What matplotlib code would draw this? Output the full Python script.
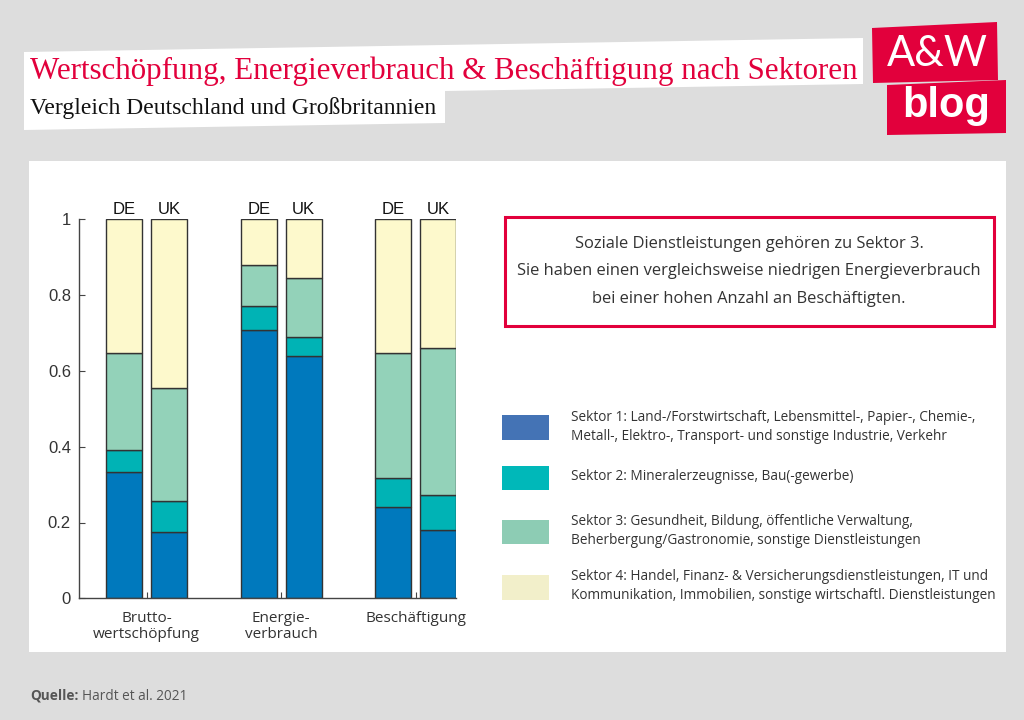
import numpy as np
import matplotlib
matplotlib.use("Agg")
import matplotlib.pyplot as plt
from matplotlib.patches import Polygon, Rectangle

# data (shares per sector)
groups = ["Brutto-\nwertschöpfung", "Energie-\nverbrauch", "Beschäftigung"]
countries = ["DE", "UK"]
sektor1_de = [0.334, 0.707, 0.240]
sektor1_uk = [0.176, 0.639, 0.179]
sektor2_de = [0.058, 0.065, 0.077]
sektor2_uk = [0.080, 0.051, 0.094]
sektor3_de = [0.255, 0.107, 0.329]
sektor3_uk = [0.300, 0.156, 0.388]
sektor4_de = [0.353, 0.121, 0.354]
sektor4_uk = [0.444, 0.154, 0.339]

bar_colors = ["#0079bd", "#00b3b5", "#93d2b9", "#fdf9cc"]
legend_colors = ["#4473b5", "#00b8b9", "#8dccb4", "#f2efca"]
legend_labels = [
    "Sektor 1: Land-/Forstwirtschaft, Lebensmittel-, Papier-, Chemie-,\nMetall-, Elektro-, Transport- und sonstige Industrie, Verkehr",
    "Sektor 2: Mineralerzeugnisse, Bau(-gewerbe)",
    "Sektor 3: Gesundheit, Bildung, öffentliche Verwaltung,\nBeherbergung/Gastronomie, sonstige Dienstleistungen",
    "Sektor 4: Handel, Finanz- & Versicherungsdienstleistungen, IT und\nKommunikation, Immobilien, sonstige wirtschaftl. Dienstleistungen",
]
note = ("Soziale Dienstleistungen gehören zu Sektor 3.\n"
        "Sie haben einen vergleichsweise niedrigen Energieverbrauch\n"
        "bei einer hohen Anzahl an Beschäftigten.")

W, H = 1024, 720
red = "#e2003c"


def fx(x):
    return x / W


def fy(y):
    return 1 - y / H


fig = plt.figure(figsize=(W / 100, H / 100), dpi=100)
fig.patch.set_facecolor("#dddddd")

# white panel
fig.patches.append(Rectangle((fx(29), fy(652)), fx(1006) - fx(29), fy(161) - fy(652),
                             transform=fig.transFigure, facecolor="white", edgecolor="none", zorder=-2))

# title banner
banner = [(24, 52), (863, 38), (863, 84), (445, 91), (445, 123), (24, 130)]
fig.patches.append(Polygon([(fx(x), fy(y)) for x, y in banner], closed=True,
                           transform=fig.transFigure, facecolor="white", edgecolor="none", zorder=-2))
fig.text(fx(30), fy(79), "Wertschöpfung, Energieverbrauch & Beschäftigung nach Sektoren",
         family="Liberation Serif", fontsize=22.3, color=red, va="baseline", ha="left")
fig.text(fx(30), fy(114), "Vergleich Deutschland und Großbritannien",
         family="Liberation Serif", fontsize=17, color="#111111", va="baseline", ha="left")

# logo
box1 = [(872, 28), (997, 22), (998, 80), (873, 83)]
box2 = [(887, 85), (1006, 80), (1006, 133), (887, 135)]
for b in (box1, box2):
    fig.patches.append(Polygon([(fx(x), fy(y)) for x, y in b], closed=True,
                               transform=fig.transFigure, facecolor=red, edgecolor="none", zorder=1))
fig.text(fx(937), fy(54), "A&W", family="Lato", fontsize=30,
         color="white", ha="center", va="center", zorder=2)
fig.text(fx(946), fy(106), "blog", family="Liberation Sans", fontweight="bold", fontsize=30,
         color="white", ha="center", va="center", zorder=2)

# bar chart
ax = fig.add_axes([fx(79.3), fy(598.3), fx(456.3) - fx(79.3), fy(219.3) - fy(598.3)])
ax.set_zorder(3)
ax.set_facecolor("none")
x = np.arange(1, len(groups) + 1)
off = 0.167
width = 0.268
de_stack = [sektor1_de, sektor2_de, sektor3_de, sektor4_de]
uk_stack = [sektor1_uk, sektor2_uk, sektor3_uk, sektor4_uk]
for pos, stack, name in ((x - off, de_stack, countries[0]), (x + off, uk_stack, countries[1])):
    bottom = np.zeros(len(groups))
    for vals, col in zip(stack, bar_colors):
        ax.bar(pos, vals, width, bottom=bottom, color=col, edgecolor="#333333", linewidth=1.0)
        bottom += np.array(vals)
    for p in pos:
        ax.text(p, 1.025, name, ha="center", va="center", fontsize=12,
                family="Liberation Sans", color="#111111")

ax.set_xlim(0.5, 3.3)
ax.set_ylim(0, 1)
ax.set_yticks([0, 0.2, 0.4, 0.6, 0.8, 1])
ax.set_yticklabels(["0", "0.2", "0.4", "0.6", "0.8", "1"], family="Liberation Sans", fontsize=12, color="#333333")
ax.set_xticks(x)
ax.set_xticklabels(groups, family="Open Sans", fontsize=11, color="#333333", linespacing=1.1)
ax.tick_params(direction="in", length=4, color="#444444", pad=6)
ax.tick_params(axis="x", pad=9)
for s in ("top", "right"):
    ax.spines[s].set_visible(False)
for s in ("left", "bottom"):
    ax.spines[s].set_color("#444444")
    ax.spines[s].set_linewidth(1.0)

# note box
fig.patches.append(Rectangle((fx(505), fy(326)), fx(994) - fx(505), fy(217) - fy(326),
                             transform=fig.transFigure, facecolor="white", edgecolor=red, linewidth=2.2, zorder=1))
for i, line in enumerate(note.split("\n")):
    fig.text(fx(749), fy(244 + i * 27.3), line, family="Open Sans", fontsize=11.9,
             color="#333333", ha="center", va="center", zorder=2)

# legend
patch_y = [(415, 440), (466, 490), (520, 544), (575, 600)]
text_y = [427, 477, 531, 586]
for (y0, y1), ty, col, lab in zip(patch_y, text_y, legend_colors, legend_labels):
    fig.patches.append(Rectangle((fx(502), fy(y1)), fx(549) - fx(502), fy(y0) - fy(y1),
                                 transform=fig.transFigure, facecolor=col, edgecolor="none", zorder=1))
    fig.text(fx(571), fy(ty), lab, family="Open Sans", fontsize=9.8, color="#333333",
             ha="left", va="center", linespacing=1.35, zorder=2)

# source
q = fig.text(fx(30), fy(700), "Quelle:", family="Open Sans", fontweight="bold", fontsize=9.8,
             color="#555555", ha="left", va="baseline")
fig.canvas.draw()
bb = q.get_window_extent()
fig.text(fx(bb.x1 + 4), fy(700), "Hardt et al. 2021", family="Open Sans", fontsize=9.8,
         color="#555555", ha="left", va="baseline")

fig.savefig("out.png", dpi=100, facecolor=fig.get_facecolor())
